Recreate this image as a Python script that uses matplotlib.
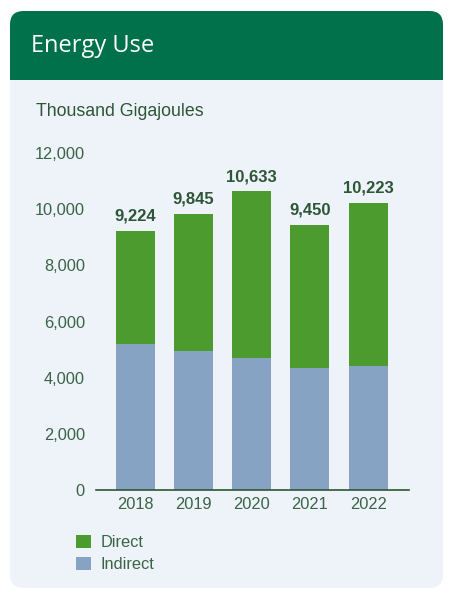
import numpy as np
import matplotlib.pyplot as plt
from matplotlib.patches import FancyBboxPatch, Rectangle
from matplotlib.ticker import FuncFormatter

# data
years = ["2018", "2019", "2020", "2021", "2022"]
totals = [9224, 9845, 10633, 9450, 10223]
indirect = [5200, 4950, 4700, 4345, 4415]
direct = [t - i for t, i in zip(totals, indirect)]

GREEN = "#4b9b2f"
BLUE = "#87a3c4"
HEADER = "#00714a"
CARD = "#eef2f9"
TXT = "#3a6446"
DARK = "#2c5636"

plt.rcParams['font.family'] = ['Liberation Sans Narrow', 'Liberation Sans', 'DejaVu Sans']

W, H = 449, 590
fig = plt.figure(figsize=(W / 100, H / 100), dpi=100)
fig.patch.set_facecolor("white")

def fx(px):
    return px / W

def fy(py):
    return 1 - py / H

# card background + header (behind the axes)
card = FancyBboxPatch((fx(10), fy(588)), fx(433), (588 - 11) / H,
                      boxstyle="round,pad=0,rounding_size=0.03",
                      transform=fig.transFigure, facecolor=CARD, edgecolor="none",
                      mutation_aspect=W / H, zorder=-10)
fig.patches.append(card)
head = FancyBboxPatch((fx(10), fy(80)), fx(433), (80 - 11) / H,
                      boxstyle="round,pad=0,rounding_size=0.03",
                      transform=fig.transFigure, facecolor=HEADER, edgecolor="none",
                      mutation_aspect=W / H, zorder=-9)
fig.patches.append(head)
fig.patches.append(Rectangle((fx(10), fy(80)), fx(433), 30 / H,
                             transform=fig.transFigure, facecolor=HEADER,
                             edgecolor="none", zorder=-9))

fig.text(fx(31), fy(46), "Energy Use", color="white", fontsize=17,
         family=["Open Sans", "DejaVu Sans"], fontweight="medium",
         va="center", ha="left")
fig.text(fx(36), fy(112), "Thousand Gigajoules", color=DARK, fontsize=12.8,
         va="center", ha="left")

# axes: x from 96 to 409 px, y 0 at 490 px, 12000 at 153 px
ax = fig.add_axes([fx(96), fy(490), fx(409 - 96), (490 - 153) / H])
ax.set_facecolor("none")
x = np.arange(len(years))
ax.bar(x, indirect, width=0.67, color=BLUE, label="Indirect")
ax.bar(x, direct, width=0.67, bottom=indirect, color=GREEN, label="Direct")

for xi, t in zip(x, totals):
    ax.text(xi, t + 250, f"{t:,}", ha="center", va="bottom", fontsize=12,
            fontweight="bold", color=DARK)

ax.set_ylim(0, 12000)
ax.set_xlim(-0.67, 4.7)
ax.set_yticks(np.arange(0, 12001, 2000))
ax.yaxis.set_major_formatter(FuncFormatter(lambda v, p: f"{int(v):,}"))
ax.set_xticks(x)
ax.set_xticklabels(years)
ax.tick_params(axis="both", length=0, labelsize=11.8, labelcolor=TXT)
ax.tick_params(axis="y", pad=8)
ax.tick_params(axis="x", pad=5)
for s in ["top", "right", "left"]:
    ax.spines[s].set_visible(False)
ax.spines["bottom"].set_color(DARK)
ax.spines["bottom"].set_linewidth(1.2)

# legend
leg = fig.legend(handles=[ax.containers[1], ax.containers[0]], labels=["Direct", "Indirect"],
                 loc="upper left", bbox_to_anchor=(fx(61), fy(520)), frameon=False,
                 fontsize=11.8, handlelength=0.9, handleheight=0.9, handletextpad=0.6,
                 labelspacing=0.4, labelcolor=TXT)

fig.savefig("out.png", dpi=100, facecolor="white")
